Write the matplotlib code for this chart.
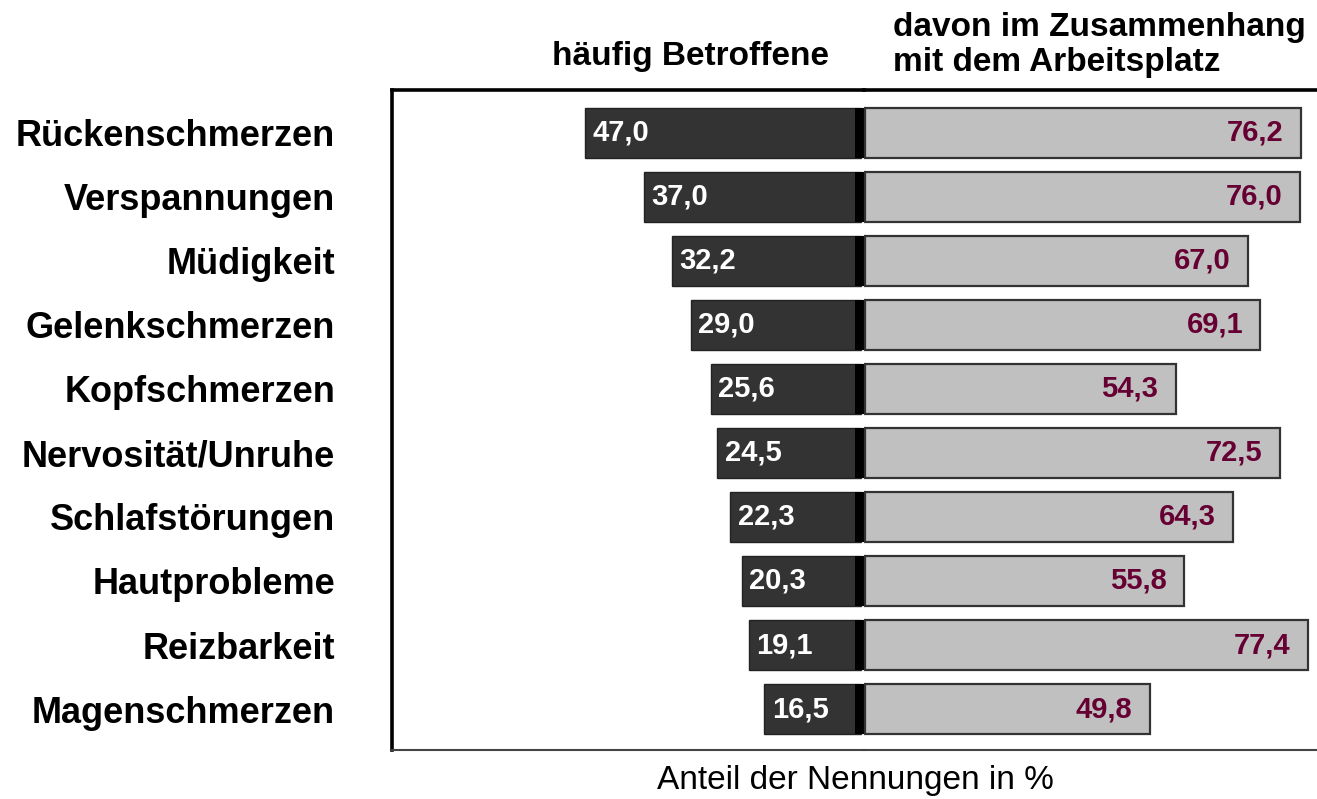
import numpy as np
from matplotlib import pyplot as plt

plt.rcParams['font.family'] = ['Liberation Sans', 'DejaVu Sans']

categories = ['Rückenschmerzen', 'Verspannungen', 'Müdigkeit', 'Gelenkschmerzen',
              'Kopfschmerzen', 'Nervosität/Unruhe', 'Schlafstörungen', 'Hautprobleme',
              'Reizbarkeit', 'Magenschmerzen']
betroffene = [47.0, 37.0, 32.2, 29.0, 25.6, 24.5, 22.3, 20.3, 19.1, 16.5]
arbeitsplatz = [76.2, 76.0, 67.0, 69.1, 54.3, 72.5, 64.3, 55.8, 77.4, 49.8]


def fmt(v):
    return f'{v:.1f}'.replace('.', ',')


W, H = 1317, 799
fig = plt.figure(figsize=(W / 100, H / 100), dpi=100)
bottom, height = 49 / H, 660 / H
# left half (dark bars) and right half (light bars) share the frame
ax_l = fig.add_axes([392 / W, bottom, (864 - 392) / W, height])
ax_r = fig.add_axes([864 / W, bottom, (W - 864) / W, height])

y = np.arange(len(categories))
h = 0.77
ylim = (len(categories) - 1 + 0.64, -0.67)

ax_l.barh(y, [-v for v in betroffene], height=h, color='#333333',
          edgecolor='#222222', linewidth=1.0, zorder=2)
ax_l.barh(y, 1.6, left=-1.05, height=h, color='black', linewidth=0, zorder=3)
for yi, v in zip(y, betroffene):
    ax_l.text(-v + 1.3, yi, fmt(v), ha='left', va='center', color='white',
              fontsize=21, fontweight='bold', zorder=4)
ax_l.set_xlim(-79.9, 0.51)
ax_l.set_ylim(*ylim)
ax_l.set_yticks(y)
ax_l.set_yticklabels(categories, fontsize=26, fontweight='bold')
ax_l.tick_params(axis='y', length=0, pad=41)
ax_l.set_xticks([])

ax_r.barh(y, arbeitsplatz, height=h, color='#c0c0c0',
          edgecolor='#333333', linewidth=1.6, zorder=2)
for yi, v in zip(y, arbeitsplatz):
    ax_r.text(v - 3.0, yi, fmt(v), ha='right', va='center', color='#660033',
              fontsize=21, fontweight='bold', zorder=4)
ax_r.set_xlim(-0.1, 79.0)
ax_r.set_ylim(*ylim)
ax_r.set_yticks([])
ax_r.set_xticks([])

for ax in (ax_l, ax_r):
    ax.patch.set_alpha(0)
    ax.spines['right'].set_visible(False)
    ax.spines['top'].set_linewidth(2.6)
    ax.spines['bottom'].set_linewidth(1.5)
    ax.spines['bottom'].set_color('#444444')
    for b in ax.patches:
        b.set_clip_on(False)
ax_l.spines['left'].set_linewidth(2.6)
ax_r.spines['left'].set_visible(False)

fig.text(690 / W, 1 - 57 / H, 'häufig Betroffene', ha='center', va='center',
         fontsize=24, fontweight='bold')
fig.text(893 / W, 1 - 45 / H, 'davon im Zusammenhang\nmit dem Arbeitsplatz',
         ha='left', va='center', fontsize=24, fontweight='bold', linespacing=1.15)
fig.text(855 / W, 1 - 780 / H, 'Anteil der Nennungen in %', ha='center',
         va='center', fontsize=24)

fig.savefig('out.png', dpi=100)
